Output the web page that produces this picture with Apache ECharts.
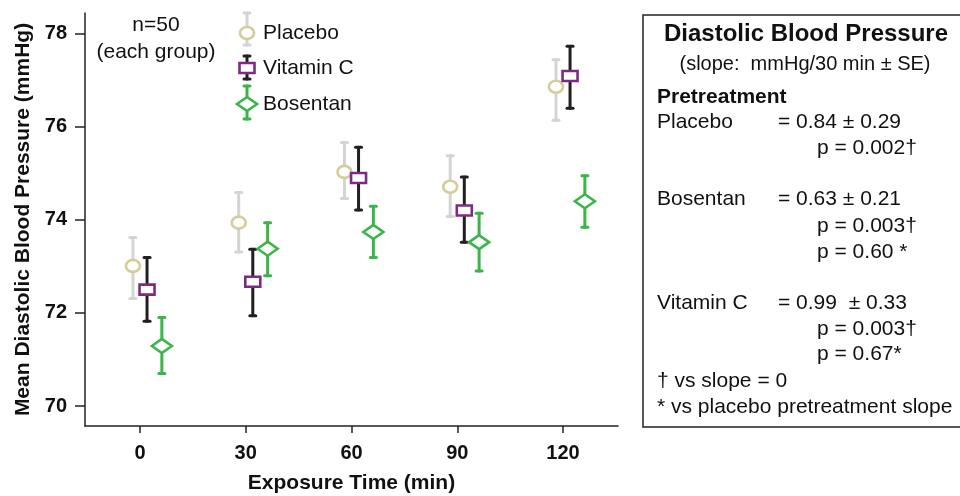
<!DOCTYPE html>
<html>
<head>
<meta charset="utf-8">
<script src="https://cdn.jsdelivr.net/npm/echarts@6/dist/echarts.min.js"></script>
<style>
  html, body { margin: 0; padding: 0; background: #fff; }
  #chart { width: 960px; height: 496px; }
</style>
</head>
<body>
<div id="chart"></div>
<script>
// values
const times = [0, 30, 60, 90, 120];
const timeTicks = [0, 30, 60, 90, 120];
const bpTicks = [70, 72, 74, 76, 78];

const placeboMean = [73.01, 73.94, 75.03, 74.71, 76.86];
const placeboLow = [72.31, 73.31, 74.46, 74.07, 76.14];
const placeboHigh = [73.62, 74.59, 75.66, 75.38, 77.44];

const vitcMean = [72.50, 72.67, 74.90, 74.20, 77.09];
const vitcLow = [71.82, 71.94, 74.21, 73.52, 76.40];
const vitcHigh = [73.19, 73.37, 75.56, 74.92, 77.73];

const bosMean = [71.29, 73.38, 73.74, 73.52, 74.40];
const bosLow = [70.70, 72.80, 73.19, 72.90, 73.84];
const bosHigh = [71.90, 73.94, 74.29, 74.14, 74.95];

const FONT = 'Liberation Sans, Arial, Helvetica, sans-serif';

const groups = [
  { name: 'Placebo', mean: placeboMean, low: placeboLow, high: placeboHigh,
    shift: -2, shape: 'ellipse', marker: '#d5cd97', bar: '#d4d4d4' },
  { name: 'Vitamin C', mean: vitcMean, low: vitcLow, high: vitcHigh,
    shift: 2, shape: 'rect', marker: '#7d2a82', bar: '#231f20' },
  { name: 'Bosentan', mean: bosMean, low: bosLow, high: bosHigh,
    shift: 6.2, shape: 'diamond', marker: '#3bb44a', bar: '#3bb44a' }
];

// marker outline, white filled so the bar is hidden behind it
function markerShape(kind, cx, cy, color) {
  const style = { fill: '#fff', stroke: color, lineWidth: 2.6 };
  if (kind === 'ellipse') {
    return { type: 'ellipse', shape: { cx: cx, cy: cy, rx: 7, ry: 6 }, style: style };
  }
  if (kind === 'rect') {
    return { type: 'rect', shape: { x: cx - 7.5, y: cy - 5, width: 15, height: 10 }, style: style };
  }
  return { type: 'polygon',
    shape: { points: [[cx - 10, cy], [cx, cy - 7], [cx + 10, cy], [cx, cy + 7]] },
    style: style };
}

function errorBar(x, yTop, yBot, color) {
  const s = { stroke: color, lineWidth: 3, lineCap: 'round' };
  return [
    { type: 'line', shape: { x1: x, y1: yTop, x2: x, y2: yBot }, style: s },
    { type: 'line', shape: { x1: x - 3, y1: yTop, x2: x + 3, y2: yTop }, style: s },
    { type: 'line', shape: { x1: x - 3, y1: yBot, x2: x + 3, y2: yBot }, style: s }
  ];
}

const series = groups.map(function (g) {
  return {
    name: g.name,
    type: 'custom',
    data: times.map(function (t, i) { return [t + g.shift, g.mean[i], g.low[i], g.high[i]]; }),
    renderItem: function (params, api) {
      const c = api.coord([api.value(0), api.value(1)]);
      const lo = api.coord([api.value(0), api.value(2)]);
      const hi = api.coord([api.value(0), api.value(3)]);
      const kids = errorBar(c[0], hi[1], lo[1], g.bar);
      kids.push(markerShape(g.shape, c[0], c[1], g.marker));
      return { type: 'group', children: kids };
    }
  };
});

// legend drawn by hand so the error bar shows in each key
const legendRows = [
  { top: 13, bot: 45, mid: 33 },
  { top: 56, bot: 79, mid: 68 },
  { top: 86, bot: 119, mid: 104 }
];
const graphics = [];
groups.forEach(function (g, i) {
  const r = legendRows[i];
  errorBar(247, r.top, r.bot, g.bar).forEach(function (e) { graphics.push(e); });
  graphics.push(markerShape(g.shape, 247, r.mid, g.marker));
  graphics.push({ type: 'text', x: 263, y: r.mid,
    style: { text: g.name, font: '21px ' + FONT, fill: '#111', textVerticalAlign: 'middle' } });
});
graphics.push({ type: 'text', x: 156, y: 25,
  style: { text: 'n=50', font: '21px ' + FONT, fill: '#111', textAlign: 'center', textVerticalAlign: 'middle' } });
graphics.push({ type: 'text', x: 156, y: 52,
  style: { text: '(each group)', font: '21px ' + FONT, fill: '#111', textAlign: 'center', textVerticalAlign: 'middle' } });

// slope box
graphics.push({ type: 'rect', shape: { x: 643, y: 15, width: 340, height: 412 },
  style: { fill: 'none', stroke: '#222', lineWidth: 1.5 } });
const boxLines = [
  ['Diastolic Blood Pressure', 806, 34, 'bold 24px', 'center'],
  ['(slope:  mmHg/30 min \u00b1 SE)', 805, 64, '20px', 'center'],
  ['Pretreatment', 657, 97, 'bold 21px', 'left'],
  ['Placebo', 657, 122, '21px', 'left'],
  ['= 0.84 \u00b1 0.29', 778, 122, '21px', 'left'],
  ['p = 0.002\u2020', 817, 148, '21px', 'left'],
  ['Bosentan', 657, 199, '21px', 'left'],
  ['= 0.63 \u00b1 0.21', 778, 199, '21px', 'left'],
  ['p = 0.003\u2020', 817, 226, '21px', 'left'],
  ['p = 0.60 *', 817, 252, '21px', 'left'],
  ['Vitamin C', 657, 303, '21px', 'left'],
  ['= 0.99  \u00b1 0.33', 778, 303, '21px', 'left'],
  ['p = 0.003\u2020', 817, 329, '21px', 'left'],
  ['p = 0.67*', 817, 354, '21px', 'left'],
  ['\u2020 vs slope = 0', 657, 381, '21px', 'left'],
  ['* vs placebo pretreatment slope', 657, 407, '21px', 'left']
];
boxLines.forEach(function (b) {
  graphics.push({ type: 'text', x: b[1], y: b[2],
    style: { text: b[0], font: b[3] + ' ' + FONT, fill: '#111', textAlign: b[4], textVerticalAlign: 'middle' } });
});

const chart = echarts.init(document.getElementById('chart'), null, { renderer: 'canvas' });
chart.setOption({
  animation: false,
  backgroundColor: '#fff',
  textStyle: { fontFamily: FONT },
  grid: { left: 85, right: 342, top: 13, bottom: 70, containLabel: false, outerBoundsMode: 'none' },
  xAxis: {
    type: 'value',
    min: -15.6,
    max: 135.6,
    name: 'Exposure Time (min)',
    nameLocation: 'middle',
    nameGap: 47,
    nameTextStyle: { fontSize: 21, fontWeight: 'bold', color: '#111', fontFamily: FONT },
    axisLine: { onZero: false, lineStyle: { color: '#222', width: 1.5 } },
    axisTick: { show: true, length: 7, customValues: timeTicks, lineStyle: { color: '#222', width: 1.5 } },
    axisLabel: { customValues: timeTicks, margin: 17, fontSize: 20, fontWeight: 'bold', color: '#111', fontFamily: FONT },
    splitLine: { show: false }
  },
  yAxis: {
    type: 'value',
    min: 69.57,
    max: 78.445,
    name: 'Mean Diastolic Blood Pressure (mmHg)',
    nameLocation: 'middle',
    nameGap: 51,
    nameTextStyle: { fontSize: 21, fontWeight: 'bold', color: '#111', fontFamily: FONT },
    axisLine: { show: true, onZero: false, lineStyle: { color: '#222', width: 1.5 } },
    axisTick: { show: true, length: 10, customValues: bpTicks, lineStyle: { color: '#222', width: 1.5 } },
    axisLabel: { customValues: bpTicks, margin: 18, fontSize: 20, fontWeight: 'bold', color: '#111', fontFamily: FONT },
    splitLine: { show: false }
  },
  graphic: graphics,
  series: series
});
</script>
</body>
</html>
